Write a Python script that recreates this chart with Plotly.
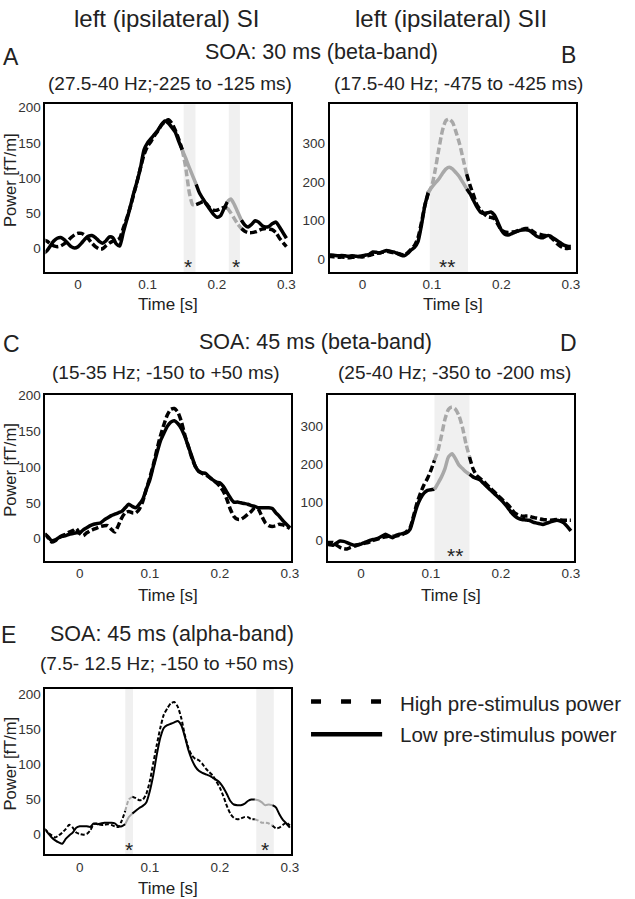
import plotly.graph_objects as go

W, H = 635, 899

# sample times (s), 5 ms steps from -0.05 to 0.30
time_s = [round(-0.05 + 0.005 * i, 3) for i in range(71)]

# Panel A: SOA 30 ms, SI (27.5-40 Hz)
A_high = [12, 10, 6, 3, 2, 3, 6, 10, 15, 19, 21, 21, 18, 13, 7, 2, -1, -1, 3, 7,
          10, 11, 14, 28, 42, 58, 76, 95, 115, 133, 145, 152, 160, 167, 175, 180, 183, 178, 168, 155,
          140, 115, 80, 62, 62, 64, 66, 63, 57, 54, 54, 56, 58, 57, 50, 42, 34, 28, 24, 22,
          22, 23, 25, 27, 28, 27, 26, 22, 14, 8, 2]
A_low = [-8, -4, 3, 10, 14, 15, 12, 7, 2, 0, 2, 7, 13, 17, 18, 15, 10, 7, 10, 16,
         15, 6, 3, 22, 40, 58, 78, 95, 115, 140, 150, 156, 162, 168, 176, 181, 178, 172, 165, 152,
         140, 128, 115, 103, 91, 78, 70, 62, 55, 48, 44, 46, 56, 66, 70, 62, 51, 40, 33, 30,
         34, 39, 37, 32, 30, 31, 35, 37, 30, 22, 14]

# Panel B: SOA 30 ms, SII (17.5-40 Hz)
B_high = [8, 6, 5, 4, 5, 4, 3, 4, 5, 6, 5, 7, 9, 12, 14, 16, 18, 20, 18, 16,
          15, 12, 10, 16, 25, 35, 55, 95, 140, 172, 191, 234, 286, 333, 360, 364, 355, 329, 299, 260,
          221, 191, 166, 140, 127, 118, 110, 108, 105, 90, 75, 70, 69, 70, 71, 74, 77, 79, 79, 72,
          66, 64, 62, 60, 58, 50, 40, 33, 28, 27, 28]
B_low = [10, 10, 9, 8, 9, 8, 7, 8, 7, 6, 8, 10, 12, 18, 17, 15, 19, 22, 20, 18,
         14, 10, 8, 14, 23, 30, 45, 88, 140, 175, 187, 198, 208, 222, 234, 239, 234, 224, 213, 198,
         183, 170, 152, 135, 122, 118, 120, 122, 114, 95, 75, 64, 62, 66, 70, 73, 75, 76, 74, 68,
         60, 56, 55, 60, 60, 54, 48, 42, 36, 33, 32]

# Panel C: SOA 45 ms, SI (15-35 Hz)
C_high = [7, 1, -5, -3, 1, 4, 6, 9, 11, 14, 7, 4, 8, 11, 13, 15, 17, 18, 18, 13,
          9, 18, 29, 36, 38, 36, 36, 41, 52, 69, 85, 103, 124, 143, 159, 173, 181, 182, 177, 164,
          145, 129, 113, 101, 94, 91, 89, 86, 82, 78, 73, 66, 55, 41, 31, 27, 27, 30, 34, 38,
          43, 41, 31, 22, 18, 17, 18, 20, 19, 17, 14]
C_low = [6, 2, -3, -2, 1, 3, 4, 6, 7, 8, 8, 12, 15, 18, 20, 21, 22, 26, 29, 32,
         34, 36, 38, 43, 48, 45, 43, 48, 55, 69, 82, 101, 119, 136, 147, 157, 163, 165, 161, 154,
         143, 129, 115, 101, 94, 92, 91, 86, 82, 79, 78, 73, 65, 57, 51, 51, 50, 49, 48, 46,
         45, 43, 43, 43, 43, 42, 36, 31, 25, 20, 15]

# Panel D: SOA 45 ms, SII (25-40 Hz)
D_high = [-7, -7, -7, -14, -20, -23, -24, -20, -17, -14, -11, -9, -7, -3, 0, 3, 6, 8, 10, 10,
          10, 12, 15, 22, 32, 63, 98, 124, 146, 163, 185, 211, 237, 276, 320, 346, 352, 346, 329, 298,
          255, 220, 189, 171, 163, 155, 146, 137, 128, 119, 110, 101, 93, 82, 71, 66, 63, 63, 63, 60,
          58, 56, 54, 53, 52, 53, 54, 53, 52, 52, 52]
D_low = [-11, -13, -14, -8, -3, -4, -7, -11, -14, -13, -11, -7, -3, 0, 2, 5, 10, 15, 10, 6,
         12, 15, 17, 19, 28, 58, 89, 110, 124, 131, 133, 134, 150, 167, 189, 220, 228, 215, 198, 189,
         180, 174, 167, 163, 159, 150, 141, 132, 124, 115, 106, 96, 85, 72, 63, 57, 54, 53, 52, 48,
         45, 43, 41, 44, 47, 50, 52, 50, 45, 35, 24]

# Panel E: SOA 45 ms, SI alpha (7.5-12.5 Hz)
E_high = [8, 3, -1, -4, -1, 3, 8, 14, 10, 3, 1, 0, 1, 6, 15, 16, 14, 14, 15, 14,
          12, 11, 20, 34, 50, 54, 52, 49, 50, 58, 76, 102, 128, 152, 171, 180, 187, 189, 182, 166,
          142, 124, 113, 108, 106, 101, 94, 89, 84, 76, 67, 55, 41, 30, 24, 22, 23, 25, 25, 22,
          22, 20, 17, 17, 16, 13, 9, 10, 14, 17, 13]
E_low = [8, 2, -4, -8, -11, -13, -6, -1, 3, 10, 12, 12, 12, 11, 16, 15, 16, 17, 17, 17,
         16, 12, 12, 15, 25, 30, 34, 38, 41, 46, 62, 85, 114, 138, 152, 156, 158, 160, 162, 156,
         140, 121, 107, 97, 91, 88, 86, 84, 81, 78, 74, 67, 58, 48, 43, 42, 42, 44, 48, 50,
         50, 49, 46, 42, 43, 42, 39, 29, 21, 16, 10]

# significant time windows (s)
A_bands = [(0.152, 0.169), (0.217, 0.233)]
B_bands = [(0.097, 0.152)]
C_bands = []
D_bands = [(0.105, 0.155)]
E_bands = [(0.065, 0.076), (0.252, 0.277)]

# star markers: (time, label)
A_stars = [(0.159, "*"), (0.228, "*")]
B_stars = [(0.122, "**")]
C_stars = []
D_stars = [(0.135, "**")]
E_stars = [(0.071, "*"), (0.264, "*")]

A_yticks = [0, 50, 100, 150, 200]
B_yticks = [0, 100, 200, 300]
x_ticks = [0, 0.1, 0.2, 0.3]
x_ticktext = ["0", "0.1", "0.2", "0.3"]


def px(x):
    return x / W


def py(y):
    return 1 - y / H


FONT = "Liberation Sans, Arial, sans-serif"

panels = [
    dict(high=A_high, low=A_low, bands=A_bands, stars=A_stars, xp=(46, 295), yp=(98, 267),
         xr=[-0.047, 0.307], yr=[-34, 205], yt=A_yticks, ytitle=True, thin=False, star_y=262, ttl_y=300),
    dict(high=B_high, low=B_low, bands=B_bands, stars=B_stars, xp=(334, 583), yp=(98, 267),
         xr=[-0.047, 0.307], yr=[-34, 403], yt=B_yticks, ytitle=False, thin=False, star_y=262, ttl_y=300),
    dict(high=C_high, low=C_low, bands=C_bands, stars=C_stars, xp=(46, 295), yp=(391, 558),
         xr=[-0.049, 0.302], yr=[-31, 201], yt=A_yticks, ytitle=True, thin=False, star_y=553, ttl_y=593),
    dict(high=D_high, low=D_low, bands=D_bands, stars=D_stars, xp=(332, 581), yp=(391, 558),
         xr=[-0.0475, 0.304], yr=[-55, 384], yt=B_yticks, ytitle=False, thin=False, star_y=553, ttl_y=593),
    dict(high=E_high, low=E_low, bands=E_bands, stars=E_stars, xp=(46, 295), yp=(687, 854),
         xr=[-0.049, 0.302], yr=[-28, 208], yt=A_yticks, ytitle=True, thin=True, star_y=849, ttl_y=888),
]

fig = go.Figure()
layout = dict(width=W, height=H, margin=dict(l=0, r=0, t=0, b=0),
              plot_bgcolor="white", paper_bgcolor="white", showlegend=False,
              font=dict(family=FONT, color="#222"))
shapes = []
annotations = []

GRAY = "#a8a8a8"


def split(vals, bands):
    n = len(vals)
    inside = [any(lo - 0.0026 <= t <= hi + 0.0026 for lo, hi in bands) for t in time_s]
    black, gray = [], []
    for i in range(n):
        keep_black = (not inside[i]) or (i > 0 and not inside[i - 1]) or (i < n - 1 and not inside[i + 1])
        black.append(vals[i] if keep_black else None)
        gray.append(vals[i] if inside[i] else None)
    return black, gray


for k, p in enumerate(panels, start=1):
    xa = "x" if k == 1 else f"x{k}"
    ya = "y" if k == 1 else f"y{k}"
    xkey = "xaxis" if k == 1 else f"xaxis{k}"
    ykey = "yaxis" if k == 1 else f"yaxis{k}"
    layout[xkey] = dict(domain=[px(p["xp"][0]), px(p["xp"][1])], range=p["xr"], anchor=ya,
                        tickvals=x_ticks, ticktext=x_ticktext, showline=True, mirror=True,
                        linecolor="black", linewidth=2, ticks="", showgrid=False, zeroline=False,
                        ticklabelstandoff=-1, tickfont=dict(size=13.5, color="#333"))
    layout[ykey] = dict(domain=[py(p["yp"][1]), py(p["yp"][0])], range=p["yr"], anchor=xa,
                        tickvals=p["yt"], showline=True, mirror=True,
                        linecolor="black", linewidth=2, ticks="", showgrid=False, zeroline=False,
                        tickfont=dict(size=13.5, color="#333"))
    for lo, hi in p["bands"]:
        shapes.append(dict(type="rect", xref=xa, yref=f"{ya} domain", x0=lo, x1=hi, y0=0, y1=1,
                           fillcolor="#f0f0f0", line=dict(width=0), layer="below"))
    lw = 2 if p["thin"] else 3.5
    dash = "4px,2px" if p["thin"] else "7px,3px"
    hb, hg = split(p["high"], p["bands"])
    lb, lg = split(p["low"], p["bands"])
    for yv, col, ds in [(hb, "black", dash), (lb, "black", "solid"), (hg, GRAY, dash), (lg, GRAY, "solid")]:
        fig.add_trace(go.Scatter(x=time_s, y=yv, mode="lines", xaxis=xa, yaxis=ya,
                                 connectgaps=False, hoverinfo="skip",
                                 line=dict(color=col, width=lw, dash=ds, shape="spline", smoothing=0.6)))
    for t, s in p["stars"]:
        annotations.append(dict(x=t, xref=xa, y=py(p["star_y"]), yref="paper", text=s, showarrow=False,
                                font=dict(size=21, color="#222"), yanchor="middle", xanchor="center"))
    annotations.append(dict(x=px((p["xp"][0] + p["xp"][1]) / 2), y=py(p["ttl_y"]), xref="paper", yref="paper",
                            text="Time [s]", showarrow=False, font=dict(size=17, color="#222"),
                            xanchor="center", yanchor="middle"))
    if p["ytitle"]:
        annotations.append(dict(x=px(10), y=py((p["yp"][0] + p["yp"][1]) / 2 - 8), xref="paper", yref="paper",
                                text="Power [fT/m]", showarrow=False, textangle=-90,
                                font=dict(size=16.5, color="#222"), xanchor="center", yanchor="middle"))

# texts: (text, x px, y px, size, anchor)
texts = [
    ("left (ipsilateral) SI", 169, 12, 24, "center"),
    ("left (ipsilateral) SII", 457, 12, 24, "center"),
    ("A", 11, 50, 23, "center"),
    ("SOA: 30 ms (beta-band)", 326, 45, 21.5, "center"),
    ("B", 576, 48, 23, "center"),
    ("(27.5-40 Hz;-225 to -125 ms)", 172, 77, 19, "center"),
    ("(17.5-40 Hz; -475 to -425 ms)", 464, 77, 19, "center"),
    ("C", 12, 340, 23, "center"),
    ("SOA: 45 ms (beta-band)", 320, 338, 21.5, "center"),
    ("D", 576, 339, 23, "center"),
    ("(15-35 Hz; -150 to +50 ms)", 168, 368, 19, "center"),
    ("(25-40 Hz; -350 to -200 ms)", 460, 368, 19, "center"),
    ("E", 9, 633, 23, "center"),
    ("SOA: 45 ms (alpha-band)", 174, 632, 21.5, "center"),
    ("(7.5- 12.5 Hz; -150 to +50 ms)", 169, 662, 19, "center"),
    ("High pre-stimulus power", 403, 702, 20.5, "left"),
    ("Low pre-stimulus power", 403, 733, 20.5, "left"),
]
for txt, x, y, s, anc in texts:
    annotations.append(dict(x=px(x), y=py(y), xref="paper", yref="paper", text=txt, showarrow=False,
                            font=dict(size=s, color="#222"), xanchor=anc, yanchor="middle"))

# legend sample lines
shapes.append(dict(type="line", xref="paper", yref="paper", x0=px(315), x1=px(387), y0=py(700), y1=py(700),
                   line=dict(color="black", width=4.5, dash="10px,20px")))
shapes.append(dict(type="line", xref="paper", yref="paper", x0=px(315), x1=px(387), y0=py(733), y1=py(733),
                   line=dict(color="black", width=4.5)))

layout["shapes"] = shapes
layout["annotations"] = annotations
fig.update_layout(**layout)

pin_js = ("document.body.style.margin='0';document.body.style.overflow='hidden';"
          "var d=document.getElementById('{plot_id}');d.style.position='fixed';"
          "d.style.left='0px';d.style.top='0px';")
fig.write_html("out.html", post_script=pin_js, config={"displayModeBar": False})
